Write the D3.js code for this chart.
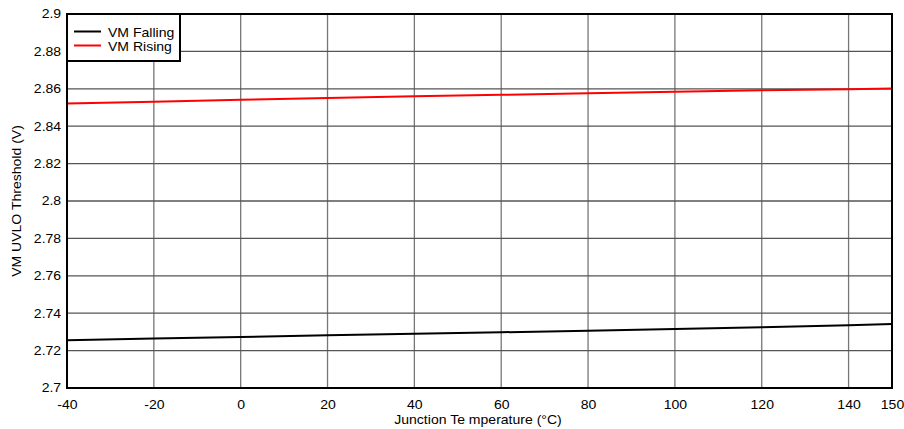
<!DOCTYPE html>
<html><head><meta charset="utf-8">
<script src="https://cdn.jsdelivr.net/npm/d3@7"></script>
<style>body{margin:0;background:#fff;} text{font-family:"Liberation Sans",Arial,sans-serif;}</style>
</head><body>
<svg id="c" width="904" height="429"></svg>
<script>
const temps = [-40, -20, 0, 20, 40, 60, 80, 100, 120, 140, 150];
const falling = [2.7256, 2.7265, 2.7273, 2.7282, 2.7290, 2.7298, 2.7306, 2.7315, 2.7325, 2.7336, 2.7342];
const rising = [2.8521, 2.8531, 2.8541, 2.8551, 2.8560, 2.8568, 2.8576, 2.8584, 2.8592, 2.8598, 2.8601];
const xTicks = [-40, -20, 0, 20, 40, 60, 80, 100, 120, 140, 150];
const yTicks = [2.7, 2.72, 2.74, 2.76, 2.78, 2.8, 2.82, 2.84, 2.86, 2.88, 2.9];
const seriesNames = ["VM Falling", "VM Rising"];
const seriesColors = ["#000000", "#ff0000"];

const SX = 1.17; // horizontal glyph stretch seen in the reference
const svg = d3.select("#c");
const L = 67, R = 892, T = 14, B = 388;
const x = d3.scaleLinear().domain([-40, 150]).range([L, R]);
const y = d3.scaleLinear().domain([2.7, 2.9]).range([B, T]);

const grid = svg.append("g");
grid.selectAll("line.v").data(xTicks.slice(1, -1)).join("line")
  .attr("x1", d => x(d)).attr("x2", d => x(d)).attr("y1", T).attr("y2", B)
  .attr("stroke", "#777").attr("stroke-width", 1.3);
grid.selectAll("line.h").data(yTicks.slice(1, -1)).join("line")
  .attr("x1", L).attr("x2", R).attr("y1", d => y(d)).attr("y2", d => y(d))
  .attr("stroke", "#555").attr("stroke-width", 1.3);

const xAxis = d3.axisBottom(x).tickValues(xTicks).tickSize(0).tickPadding(12).tickFormat(d => String(d));
const gx = svg.append("g").attr("transform", `translate(0,${B})`).call(xAxis);
gx.select(".domain").remove();
gx.selectAll("text").attr("font-size", 12).attr("fill", "#000")
  .attr("font-family", "Liberation Sans, Arial, sans-serif").attr("transform", `scale(${SX},1)`);

const yAxis = d3.axisLeft(y).tickValues(yTicks).tickSize(0).tickPadding(5).tickFormat(d => String(+d.toFixed(2)));
const gy = svg.append("g").attr("transform", `translate(${L},0)`).call(yAxis);
gy.select(".domain").remove();
gy.selectAll("text").attr("font-size", 12).attr("fill", "#000")
  .attr("font-family", "Liberation Sans, Arial, sans-serif").attr("transform", `scale(${SX},1)`);

const line = d3.line().x((d, i) => x(temps[i])).y(d => y(d));
[falling, rising].forEach((s, k) => {
  svg.append("path").datum(s).attr("d", line).attr("fill", "none")
    .attr("stroke", seriesColors[k]).attr("stroke-width", 2);
});

svg.append("rect").attr("x", L).attr("y", T).attr("width", R - L).attr("height", B - T)
  .attr("fill", "none").attr("stroke", "#000").attr("stroke-width", 2);

// legend
const lg = svg.append("g");
lg.append("rect").attr("x", L).attr("y", T).attr("width", 113).attr("height", 47)
  .attr("fill", "#fff").attr("stroke", "#000").attr("stroke-width", 2);
seriesNames.forEach((n, i) => {
  const yy = 31.5 + i * 14;
  lg.append("line").attr("x1", 74).attr("x2", 101).attr("y1", yy).attr("y2", yy)
    .attr("stroke", seriesColors[i]).attr("stroke-width", 2);
  lg.append("text").attr("transform", `translate(108,${yy + 5}) scale(${SX},1)`)
    .attr("font-size", 12).text(n);
});

svg.append("text").attr("transform", `translate(478,424) scale(${SX},1)`).attr("text-anchor", "middle")
  .attr("font-size", 12).text("Junction Te mperature (°C)");
svg.append("text").attr("transform", `translate(21,${(T + B) / 2}) rotate(-90) scale(${SX},1)`)
  .attr("text-anchor", "middle").attr("font-size", 12).text("VM UVLO Threshold (V)");
</script>
</body></html>
